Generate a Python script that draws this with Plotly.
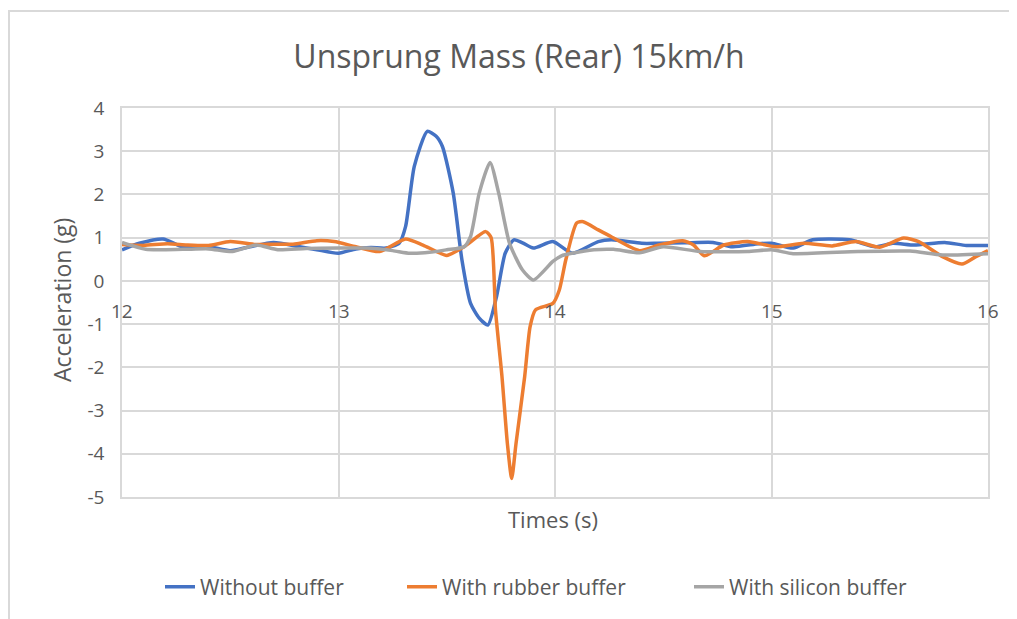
import plotly.graph_objects as go

# page body has 8px margin, so figure is 8px smaller than the window
WIDTH = 1009
HEIGHT = 611

# without buffer (blue)
t_blue = [12.00, 12.08, 12.19, 12.28, 12.40, 12.50, 12.59, 12.70, 12.82, 12.90,
          13.00, 13.08, 13.15, 13.22, 13.28, 13.31, 13.35, 13.41, 13.45, 13.48,
          13.53, 13.57, 13.61, 13.65, 13.69, 13.73, 13.77, 13.81, 13.85, 13.90,
          13.99, 14.08, 14.20, 14.26, 14.40, 14.47, 14.60, 14.73, 14.82, 14.94,
          15.00, 15.10, 15.19, 15.36, 15.48, 15.56, 15.66, 15.80, 15.90, 16.00]
a_blue = [0.72, 0.87, 0.97, 0.79, 0.79, 0.70, 0.79, 0.89, 0.79, 0.72,
          0.64, 0.74, 0.77, 0.76, 0.87, 1.26, 2.65, 3.46, 3.35, 3.11,
          2.03, 0.49, -0.52, -0.86, -1.02, -0.36, 0.64, 0.95, 0.88, 0.76,
          0.91, 0.64, 0.91, 0.95, 0.87, 0.87, 0.88, 0.89, 0.79, 0.86,
          0.87, 0.76, 0.95, 0.95, 0.79, 0.87, 0.83, 0.89, 0.82, 0.82]

# with rubber buffer (orange)
t_orange = [12.00, 12.10, 12.21, 12.30, 12.40, 12.50, 12.62, 12.70, 12.79, 12.90,
            12.98, 13.08, 13.19, 13.31, 13.39, 13.50, 13.58, 13.68, 13.705, 13.725,
            13.755, 13.78, 13.80, 13.82, 13.86, 13.885, 13.91, 13.99, 14.02, 14.05,
            14.10, 14.13, 14.20, 14.26, 14.39, 14.48, 14.59, 14.64, 14.69, 14.78,
            14.89, 15.02, 15.15, 15.28, 15.39, 15.50, 15.61, 15.68, 15.79, 15.88,
            15.94, 16.00]
a_orange = [0.84, 0.82, 0.86, 0.83, 0.82, 0.91, 0.84, 0.85, 0.85, 0.93,
            0.91, 0.79, 0.68, 0.97, 0.83, 0.59, 0.79, 1.14, 1.00, -0.67,
            -2.21, -3.76, -4.57, -3.76, -2.21, -1.06, -0.67, -0.52, -0.21, 0.49,
            1.34, 1.37, 1.18, 1.02, 0.70, 0.83, 0.93, 0.83, 0.58, 0.83,
            0.91, 0.79, 0.87, 0.81, 0.91, 0.78, 0.99, 0.91, 0.56, 0.39,
            0.55, 0.70]

# with silicon buffer (grey)
t_grey = [12.00, 12.11, 12.28, 12.40, 12.51, 12.62, 12.72, 12.85, 13.00, 13.13,
          13.25, 13.33, 13.42, 13.50, 13.58, 13.61, 13.65, 13.70, 13.74, 13.79,
          13.85, 13.90, 13.99, 14.03, 14.08, 14.18, 14.27, 14.39, 14.50, 14.67,
          14.89, 15.00, 15.10, 15.40, 15.64, 15.79, 16.00]
a_grey = [0.89, 0.73, 0.73, 0.74, 0.68, 0.83, 0.72, 0.75, 0.76, 0.76,
          0.70, 0.64, 0.66, 0.72, 0.79, 1.03, 2.03, 2.74, 2.03, 0.87,
          0.25, 0.02, 0.45, 0.58, 0.64, 0.72, 0.73, 0.65, 0.79, 0.68,
          0.68, 0.72, 0.63, 0.68, 0.69, 0.60, 0.63]

x_ticks = [12, 13, 14, 15, 16]
y_ticks = [4, 3, 2, 1, 0, -1, -2, -3, -4, -5]

FONT = "Open Sans"
TXT = "#595959"
GRID = "#d9d9d9"

fig = go.Figure()
series = [
    ("Without buffer", t_blue, a_blue, "#4472C4", "legend"),
    ("With rubber buffer", t_orange, a_orange, "#ED7D31", "legend2"),
    ("With silicon buffer", t_grey, a_grey, "#A5A5A5", "legend3"),
]
for name, t, a, col, leg in series:
    fig.add_trace(go.Scatter(name=name, x=t, y=a, mode="lines", legend=leg,
                             line=dict(color=col, width=3.5, shape="spline", smoothing=0.6)))

# x tick labels sit on the y=0 line like excel
for v in x_ticks:
    fig.add_annotation(x=v, y=0, text=str(v), showarrow=False, yshift=-30,
                       xanchor="center", yanchor="middle",
                       font=dict(family=FONT, size=19, color=TXT))

fig.add_annotation(text="Acceleration (g)", xref="paper", yref="paper",
                   x=(62 - 122) / 866, y=(497 - 300) / 389, textangle=-90,
                   xanchor="center", yanchor="middle",
                   showarrow=False, font=dict(family=FONT, size=23, color=TXT))
fig.add_annotation(text="Times (s)", xref="paper", yref="paper",
                   x=(553 - 122) / 866, y=(497 - 519) / 389,
                   xanchor="center", yanchor="middle",
                   showarrow=False, font=dict(family=FONT, size=22, color=TXT))

# outer chart frame
fig.add_shape(type="rect", xref="paper", yref="paper",
              x0=(9 - 122) / 866, x1=1.2, y0=-0.5, y1=(497 - 11) / 389,
              line=dict(color=GRID, width=2), layer="below")

leg_style = dict(orientation="h", xanchor="left", yanchor="middle", y=(497 - 587) / 389,
                 font=dict(family=FONT, size=21, color=TXT), bgcolor="rgba(0,0,0,0)")

fig.update_layout(
    width=WIDTH, height=HEIGHT,
    margin=dict(l=114, r=29, t=100, b=122),
    paper_bgcolor="white", plot_bgcolor="white",
    title=dict(text="Unsprung Mass (Rear) 15km/h", x=(519 - 8) / WIDTH, xanchor="center",
               y=1 - (57 - 8) / HEIGHT, yanchor="middle",
               font=dict(family=FONT, size=32, color=TXT)),
    xaxis=dict(range=[12, 16], dtick=1, tick0=12, showticklabels=False,
               showgrid=True, gridcolor=GRID, gridwidth=1.5, zeroline=False,
               showline=True, linecolor=GRID, linewidth=1.5, mirror=True),
    yaxis=dict(range=[-5, 4], tickvals=y_ticks, ticktext=[str(v) for v in y_ticks],
               showgrid=True, gridcolor=GRID,
               gridwidth=1.5, zeroline=True, zerolinecolor=GRID, zerolinewidth=1.5,
               showline=True, linecolor=GRID, linewidth=1.5, mirror=True,
               ticklabelstandoff=12,
               tickfont=dict(family=FONT, size=19, color=TXT)),
    legend=dict(leg_style, x=(160 - 122) / 866),
    legend2=dict(leg_style, x=(402 - 122) / 866),
    legend3=dict(leg_style, x=(689 - 122) / 866),
    showlegend=True,
)

fig.write_html("out.html")
